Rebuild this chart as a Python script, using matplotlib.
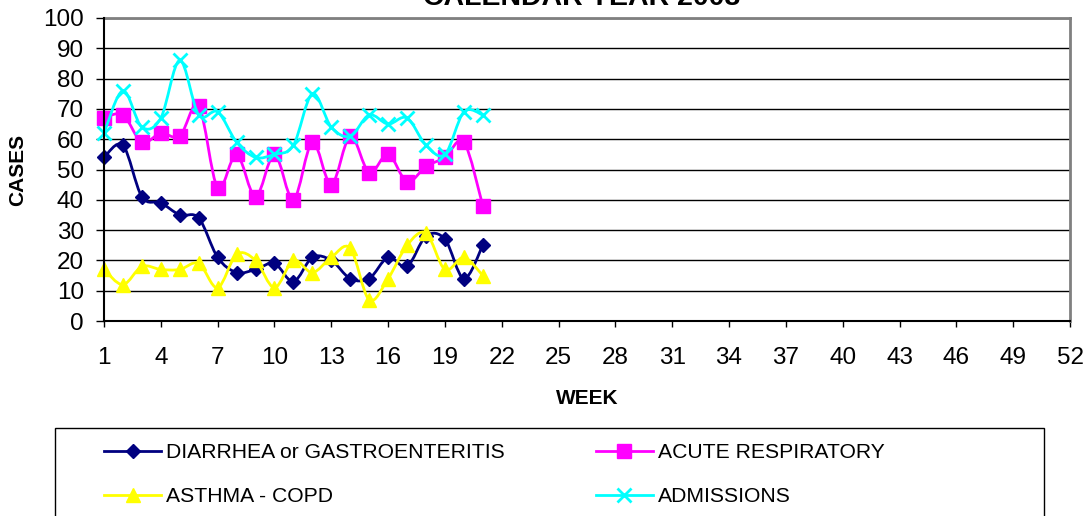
import numpy as np
import matplotlib
matplotlib.use("Agg")
from matplotlib import pyplot as plt
from matplotlib.path import Path
from matplotlib.patches import PathPatch, Rectangle
from matplotlib.lines import Line2D

plt.rcParams['font.family'] = ['Liberation Sans', 'DejaVu Sans']

weeks = np.arange(1, 22)
diarrhea = [54, 58, 41, 39, 35, 34, 21, 16, 17, 19, 13, 21, 20, 14, 14, 21, 18, 28, 27, 14, 25]
acute_resp = [67, 68, 59, 62, 61, 71, 44, 55, 41, 55, 40, 59, 45, 61, 49, 55, 46, 51, 54, 59, 38]
asthma = [17, 12, 18, 17, 17, 19, 11, 22, 20, 11, 20, 16, 21, 24, 7, 14, 25, 29, 17, 21, 15]
admissions = [62, 76, 64, 67, 86, 68, 69, 59, 54, 55, 58, 75, 64, 61, 68, 65, 67, 58, 55, 69, 68]

labels = ['DIARRHEA or GASTROENTERITIS', 'ACUTE RESPIRATORY', 'ASTHMA - COPD', 'ADMISSIONS']
colors = ['#000080', '#FF00FF', '#FFFF00', '#00FFFF']
markers = ['D', 's', '^', 'x']
msizes = [7, 9.5, 10, 10]


def smooth_path(x, y):
    # excel style smoothed line: cubic bezier through the points
    x = np.asarray(x, float)
    y = np.asarray(y, float)
    n = len(x)
    verts = [(x[0], y[0])]
    codes = [Path.MOVETO]
    for i in range(n - 1):
        i0 = max(i - 1, 0)
        i3 = min(i + 2, n - 1)
        c1 = (x[i] + (x[i + 1] - x[i0]) / 6, y[i] + (y[i + 1] - y[i0]) / 6)
        c2 = (x[i + 1] - (x[i3] - x[i]) / 6, y[i + 1] - (y[i3] - y[i]) / 6)
        verts += [c1, c2, (x[i + 1], y[i + 1])]
        codes += [Path.CURVE4] * 3
    return Path(verts, codes)


fig = plt.figure(figsize=(10.86, 5.16), dpi=100)
ax = fig.add_axes([104 / 1086, 1 - 321 / 516, 966 / 1086, 303 / 516])

series = [diarrhea, acute_resp, asthma, admissions]
handles = []
for k, vals in enumerate(series):
    z = 3 + k
    ax.add_patch(PathPatch(smooth_path(weeks, vals), facecolor='none',
                           edgecolor=colors[k], lw=2, zorder=z, clip_on=False))
    mew = 2 if markers[k] == 'x' else 1
    ax.plot(weeks, vals, linestyle='none', marker=markers[k], ms=msizes[k],
            color=colors[k], mec=colors[k], mew=mew, zorder=z, clip_on=False)
    handles.append(Line2D([], [], color=colors[k], lw=2, marker=markers[k],
                          ms=msizes[k], mew=mew))

ax.set_xlim(1, 52)
ax.set_ylim(0, 100)
ax.set_xticks(np.arange(1, 53, 3))
ax.set_yticks(np.arange(0, 101, 10))
ax.tick_params(labelsize=17.5, width=1, direction='out', color='black')
ax.tick_params(axis='x', length=4, pad=15)
ax.tick_params(axis='y', length=6, pad=8.5)

ax.grid(axis='y', color='black', lw=1, zorder=1)
ax.set_axisbelow(True)
for s in ['top', 'right']:
    ax.spines[s].set_color('#808080')
    ax.spines[s].set_linewidth(2)
for s in ['left', 'bottom']:
    ax.spines[s].set_color('black')
    ax.spines[s].set_linewidth(1.5)
    ax.spines[s].set_zorder(10)

fig.text(582 / 1086, 1 - 5 / 516, 'CALENDAR YEAR 2008', fontsize=20.5,
         fontweight='bold', ha='center', va='baseline')
fig.text(587 / 1086, 1 - 398 / 516, 'WEEK', fontsize=15, fontweight='bold',
         ha='center', va='center')
fig.text(18 / 1086, 1 - 170 / 516, 'CASES', fontsize=15, fontweight='bold',
         ha='center', va='center', rotation=90)

# legend frame runs past the bottom edge
fig.patches.append(Rectangle((55 / 1086, -0.2), 989 / 1086, 0.2 + 1 - 428 / 516,
                             transform=fig.transFigure, facecolor='white',
                             edgecolor='black', lw=1, clip_on=False))

order = [0, 2, 1, 3]
fig.legend([handles[i] for i in order], [labels[i] for i in order],
           loc='upper left', bbox_to_anchor=(104 / 1086, 1 - 443 / 516), ncol=2,
           frameon=False, fontsize=15.2, handlelength=2.7, handletextpad=0.25,
           columnspacing=4.3, labelspacing=1.19, borderpad=0, borderaxespad=0)

plt.savefig('out.png', dpi=100)
